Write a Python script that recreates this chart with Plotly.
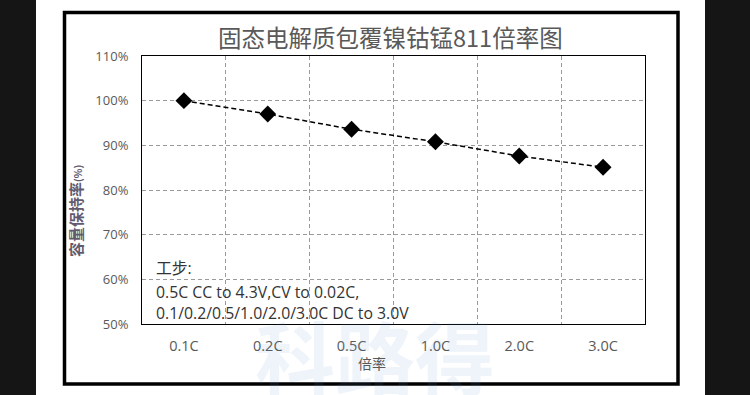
import plotly.graph_objects as go

# ---- data ----
categories = ["0.1C", "0.2C", "0.5C", "1.0C", "2.0C", "3.0C"]
retention = [100.0, 97.0, 93.6, 90.8, 87.6, 85.1]
y_ticks = [50, 60, 70, 80, 90, 100, 110]
title_text = "固态电解质包覆镍钴锰811倍率图"
x_title = "倍率"
y_title = "容量保持率<span style='font-size:10px'>(%)</span>"
note_lines = ["工步:", "0.5C CC to 4.3V,CV to 0.02C,", "0.1/0.2/0.5/1.0/2.0/3.0C DC to 3.0V"]
watermark = "科路得"

W, H = 750, 395
L, R, T, B = 142, 645, 56, 324  # plot area in pixels


def px(x):
    return (x - L) / (R - L)


def py(y):
    return (B - y) / (B - T)


FONT = "Noto Sans CJK SC, Noto Sans, sans-serif"
LFONT = "Open Sans, Noto Sans CJK SC, sans-serif"
GRAY = "#595959"

fig = go.Figure()
fig.add_trace(go.Scatter(
    x=categories, y=retention, mode="lines+markers",
    line=dict(color="black", width=1.5, dash="5px,3px"),
    marker=dict(symbol="diamond", size=13, color="black"),
    showlegend=False, hoverinfo="x+y",
))

shapes = [
    dict(type="rect", xref="paper", yref="paper", x0=px(36), x1=px(705), y0=py(395), y1=py(0),
         fillcolor="white", line=dict(width=0), layer="below"),
    dict(type="rect", xref="paper", yref="paper", x0=px(64.5), x1=px(678), y0=py(384), y1=py(12.5),
         fillcolor="rgba(0,0,0,0)", line=dict(color="black", width=3.5), layer="below"),
]

annotations = [
    dict(text=watermark, x=px(375), y=py(354), xref="paper", yref="paper", showarrow=False,
         xanchor="center", yanchor="middle",
         font=dict(size=80, color="rgba(90,150,210,0.10)", family=FONT, weight="bold")),
    dict(text=title_text, x=px(390), y=py(37), xref="paper", yref="paper", showarrow=False,
         xanchor="center", yanchor="middle", font=dict(size=23.5, color=GRAY, family=FONT)),
    dict(text=x_title, x=px(372), y=py(363), xref="paper", yref="paper", showarrow=False,
         xanchor="center", yanchor="middle", font=dict(size=14, color=GRAY, family=FONT)),
    dict(text="<b>" + y_title + "</b>", x=px(75), y=py(211), xref="paper", yref="paper", showarrow=False,
         textangle=-90, xanchor="center", yanchor="middle", font=dict(size=15, color="#625a6e", family=FONT)),
]
for line, yy in zip(note_lines, [268, 292, 313]):
    annotations.append(dict(text=line, x=px(154), y=py(yy), xref="paper", yref="paper", showarrow=False,
                            xanchor="left", yanchor="middle",
                            font=dict(size=15.8, color="#333333", family=LFONT)))

fig.update_layout(
    width=W, height=H,
    margin=dict(l=L, r=W - R, t=T, b=H - B, pad=0),
    paper_bgcolor="#151515", plot_bgcolor="rgba(0,0,0,0)",
    shapes=shapes, annotations=annotations,
    font=dict(family=FONT, color=GRAY, size=13),
)
fig.update_xaxes(
    type="category", categoryorder="array", categoryarray=categories,
    range=[-0.5, len(categories) - 0.5], tickson="boundaries",
    showgrid=True, gridcolor="#9a9a9a", gridwidth=1, griddash="4px,3px",
    showline=True, mirror=True, linecolor="black", linewidth=1,
    ticks="", ticklabelstandoff=9, tickfont=dict(size=14.5, color=GRAY, family=LFONT),
    fixedrange=True,
)
fig.update_yaxes(
    range=[50, 110], tickvals=y_ticks, ticktext=[f"{v}%" for v in y_ticks],
    showgrid=True, gridcolor="#9a9a9a", gridwidth=1, griddash="4px,3px",
    zeroline=False, showline=True, mirror=True, linecolor="black", linewidth=1,
    ticks="", ticklabelstandoff=10, tickfont=dict(size=13, color=GRAY, family=LFONT),
    fixedrange=True,
)

fig.write_html(
    "out.html",
    config={"displayModeBar": False},
    post_script="document.body.style.margin='0';document.body.style.background='#151515';",
)
